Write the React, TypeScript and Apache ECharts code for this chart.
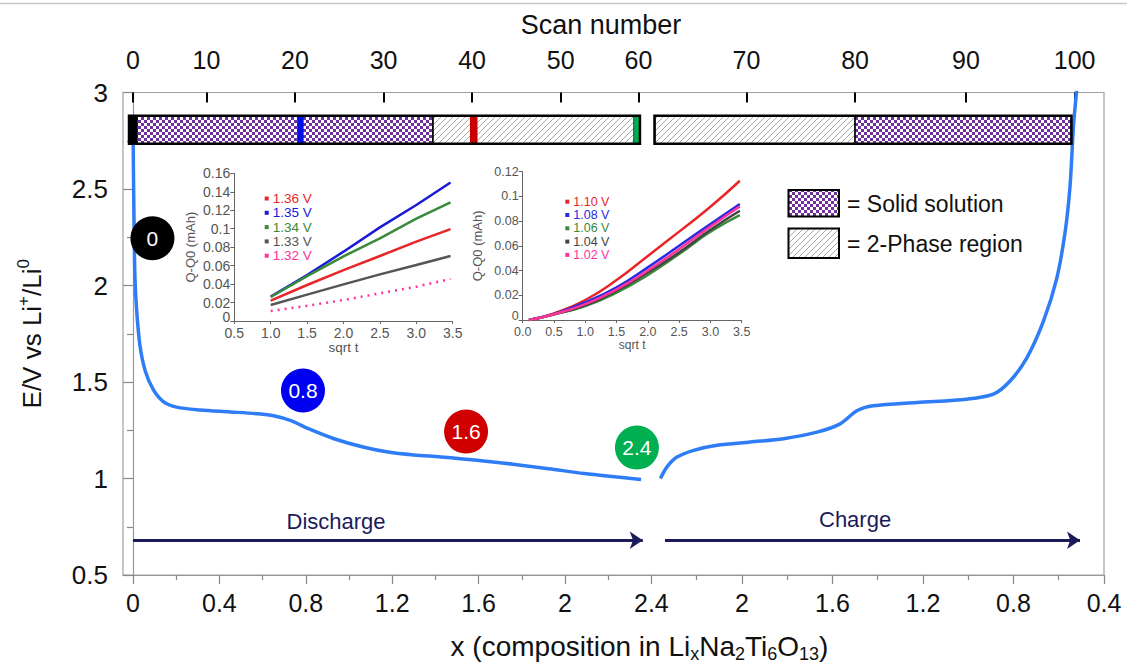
import React, { useEffect, useRef } from "react";
import * as echarts from "echarts";

// ---------- main curve (composition x, potential V) ----------
const dischargeX = [0, 0.002, 0.004, 0.006, 0.009, 0.017, 0.032, 0.056, 0.094, 0.139, 0.202, 0.31, 0.45, 0.58, 0.651, 0.731, 0.815, 0.931, 1.065, 1.181, 1.3, 1.426, 1.593, 1.759, 1.924, 2.088, 2.352];
const dischargeV = [2.85, 2.6, 2.4, 2.24, 2.04, 1.87, 1.69, 1.56, 1.46, 1.4, 1.37, 1.355, 1.345, 1.335, 1.325, 1.3, 1.257, 1.206, 1.163, 1.137, 1.122, 1.112, 1.095, 1.074, 1.051, 1.026, 0.995];
const chargeX = [2.36, 2.331, 2.287, 2.213, 2.11, 1.963, 1.816, 1.668, 1.566, 1.492, 1.419, 1.227, 1.006, 0.889, 0.815, 0.741, 0.668, 0.609, 0.572, 0.55, 0.535, 0.521];
const chargeV = [1.0, 1.06, 1.111, 1.146, 1.172, 1.189, 1.206, 1.24, 1.283, 1.351, 1.377, 1.394, 1.411, 1.437, 1.505, 1.625, 1.814, 2.036, 2.276, 2.516, 2.824, 3.01];

// ---------- axes ----------
const dischargeTicks = [0, 0.4, 0.8, 1.2, 1.6, 2, 2.4];
const chargeTicks = [2, 1.6, 1.2, 0.8, 0.4];
const dischargeMinor = [0.2, 0.6, 1.0, 1.4, 1.8, 2.2];
const chargeMinor = [2.2, 1.8, 1.4, 1.0, 0.6];
const scanNumbers = [0, 10, 20, 30, 40, 50, 60, 70, 80, 90, 100];
const scanComposition = [0, 0.34, 0.75, 1.16, 1.57, 1.98, 2.34, 1.98, 1.5, 1.01, 0.53];
const scanBranch = ["d", "d", "d", "d", "d", "d", "d", "c", "c", "c", "c"];

// ---------- phase bands ----------
const bandKind = ["solid", "twoPhase", "twoPhase", "solid"];
const bandFrom = [0.0185, 1.389, 2.386, 1.5];
const bandTo = [1.389, 2.32, 1.5, 0.544];
const bandBranch = ["d", "d", "c", "c"];
const markerScan = [0, 20, 40, 60];
const markerFrom = [-0.0185, 0.76, 1.56, 2.32];
const markerTo = [0.0185, 0.79, 1.595, 2.347];
const markerColors = ["#000000", "#0010E8", "#C80000", "#00B050"];
const outlineFrom = [-0.0185, 2.386];
const outlineTo = [2.347, 0.544];
const outlineBranch = ["d", "c"];

// ---------- badges ----------
const badgeLabels = ["0", "0.8", "1.6", "2.4"];
const badgeX = [0.09, 0.787, 1.542, 2.333];
const badgeV = [2.245, 1.456, 1.243, 1.16];
const badgeColors = ["#000000", "#0000F0", "#D00000", "#00B050"];

// ---------- inset 1 ----------
const inset1T = [1.0, 1.5, 2.0, 2.5, 3.0, 3.47];
const inset1Names = ["1.36 V", "1.35 V", "1.34 V", "1.33 V", "1.32 V"];
const inset1Colors = ["#E8262A", "#1A1AD8", "#3A8A3A", "#555555", "#FF3399"];
const inset1_136 = [0.022, 0.039, 0.0552, 0.0704, 0.086, 0.0996];
const inset1_135 = [0.0264, 0.0498, 0.0751, 0.1014, 0.1256, 0.15];
const inset1_134 = [0.026, 0.0487, 0.07, 0.0895, 0.111, 0.1285];
const inset1_133 = [0.0173, 0.0286, 0.0397, 0.0505, 0.0606, 0.0704];
const inset1_132 = [0.0108, 0.0165, 0.0227, 0.03, 0.0372, 0.0455];

// ---------- inset 2 ----------
const inset2T = [0.1, 0.5, 1.0, 1.5, 2.0, 2.5, 3.0, 3.47];
const inset2Names = ["1.10 V", "1.08 V", "1.06 V", "1.04 V", "1.02 V"];
const inset2Colors = ["#E8262A", "#2A2AE0", "#3A8A3A", "#444444", "#FF3399"];
const inset2_110 = [0, 0.0054, 0.0162, 0.0323, 0.0518, 0.0715, 0.0916, 0.1127];
const inset2_108 = [0, 0.0049, 0.0143, 0.0264, 0.0426, 0.0601, 0.0776, 0.0938];
const inset2_106 = [0, 0.0045, 0.0113, 0.0221, 0.0364, 0.0534, 0.0714, 0.0849];
const inset2_104 = [0, 0.0046, 0.0119, 0.0237, 0.0385, 0.0547, 0.073, 0.0884];
const inset2_102 = [0, 0.0047, 0.0129, 0.0248, 0.04, 0.0574, 0.0757, 0.0919];

const K = 1.0477; // charge branch scale on the shared axis
const toU = (x: number, branch: string) => (branch === "c" ? 2.4 + (2.4 - x) * K : x);
const U_MIN = -0.0463;
const U_MAX = 2.4 + 2.0 * K;
const BAND_TOP = 2.879;
const BAND_BOTTOM = 2.735;

const FONT = "'Liberation Sans', Arial, sans-serif";
const NAVY = "#1B1B5C";
const CURVE = "#2F7DF6";

function makeChecker() {
  const c = document.createElement("canvas");
  c.width = 6; c.height = 6;
  const g = c.getContext("2d")!;
  g.fillStyle = "#ffffff"; g.fillRect(0, 0, 6, 6);
  g.fillStyle = "#7030A0"; g.fillRect(0, 0, 3, 3); g.fillRect(3, 3, 3, 3);
  return c;
}
function makeHatch() {
  const c = document.createElement("canvas");
  c.width = 6; c.height = 6;
  const g = c.getContext("2d")!;
  g.fillStyle = "#ffffff"; g.fillRect(0, 0, 6, 6);
  g.strokeStyle = "#a8a8a8"; g.lineWidth = 1;
  g.beginPath();
  g.moveTo(0, 6); g.lineTo(6, 0);
  g.moveTo(-3, 3); g.lineTo(3, -3);
  g.moveTo(3, 9); g.lineTo(9, 3);
  g.stroke();
  return c;
}
const nearestLabel = (v: number, us: number[], labels: (string | number)[]) => {
  let best = 0, d = Infinity;
  us.forEach((u, i) => { const dd = Math.abs(u - v); if (dd < d) { d = dd; best = i; } });
  return String(labels[best]);
};

export default function App() {
  const ref = useRef<HTMLDivElement>(null);
  useEffect(() => {
    const chart = echarts.init(ref.current!, null, { renderer: "svg" });
    const checker = { image: makeChecker(), repeat: "repeat" };
    const hatch = { image: makeHatch(), repeat: "repeat" };

    const majorU = [...dischargeTicks.map((x) => toU(x, "d")), ...chargeTicks.map((x) => toU(x, "c"))];
    const majorLabels = [...dischargeTicks, ...chargeTicks];
    const minorU = [...dischargeMinor.map((x) => toU(x, "d")), ...chargeMinor.map((x) => toU(x, "c"))];
    const scanU = scanComposition.map((x, i) => toU(x, scanBranch[i]));

    const bandData: number[][] = [];
    bandKind.forEach((k, i) => bandData.push([toU(bandFrom[i], bandBranch[i]), toU(bandTo[i], bandBranch[i]), k === "solid" ? 0 : 1, 0]));
    markerScan.forEach((_, i) => bandData.push([toU(markerFrom[i], "d"), toU(markerTo[i], "d"), 2, i]));
    outlineFrom.forEach((_, i) => bandData.push([toU(outlineFrom[i], outlineBranch[i]), toU(outlineTo[i], outlineBranch[i]), 3, 0]));

    const insetAxisX = (grid: number, min: number, max: number, fs: number, gap: number) => ({
      gridIndex: grid, type: "value", min, max, interval: 0.5,
      axisLine: { lineStyle: { color: "#666", width: 1 } },
      axisTick: { length: 3, lineStyle: { color: "#666" } },
      axisLabel: { fontSize: fs, lineHeight: 11, color: "#555", margin: 6, fontFamily: FONT, formatter: (v: number) => v.toFixed(1) },
      splitLine: { show: false },
      name: "sqrt t", nameLocation: "middle", nameGap: gap,
      nameTextStyle: { fontSize: fs - 0.5, lineHeight: 12, color: "#555", fontFamily: FONT },
    });
    const insetAxisY = (grid: number, max: number, fs: number, gap: number) => ({
      gridIndex: grid, type: "value", min: 0, max, interval: 0.02,
      axisLine: { show: true, lineStyle: { color: "#666", width: 1 } },
      axisTick: { show: true, length: 4, lineStyle: { color: "#666" } },
      axisLabel: {
        fontSize: fs, lineHeight: 10, color: "#555", margin: 4, fontFamily: FONT,
        formatter: (v: number) => (Math.abs(v) < 1e-9 ? "{z|0}" : String(+v.toFixed(2))),
        rich: { z: { fontSize: fs, color: "#555", fontFamily: FONT, padding: [0, 0, 9, 0] } },
      },
      splitLine: { show: false },
      name: "Q-Q0 (mAh)", nameLocation: "middle", nameGap: gap,
      nameTextStyle: { fontSize: 13, color: "#555", fontFamily: FONT },
    });
    const insetSeries = (names: string[], colors: string[], t: number[], vals: number[][], xi: number, yi: number, dottedIdx: number, smooth: boolean) =>
      names.map((n, i) => ({
        name: n, type: "line", xAxisIndex: xi, yAxisIndex: yi, showSymbol: false, smooth, z: 4,
        data: t.map((x, j) => [x, vals[i][j]]),
        itemStyle: { color: colors[i] },
        lineStyle: { color: colors[i], width: 2.5, type: i === dottedIdx ? [2, 5] : "solid" },
      }));
    const insetLegend = (names: string[], colors: string[], left: number, top: number, fs: number) => ({
      orient: "vertical", left, top, padding: 0, itemGap: 0.3, itemWidth: 4, itemHeight: 4, icon: "rect",
      selectedMode: false,
      textStyle: { fontSize: fs, lineHeight: 13, fontFamily: FONT, padding: [0, 0, 0, -1] },
      data: names.map((n, i) => ({ name: n, textStyle: { color: colors[i] } })),
    });

    const option: any = {
      animation: false,
      backgroundColor: "#ffffff",
      textStyle: { fontFamily: FONT },
      grid: [
        { left: 123, top: 92.5, right: 23, bottom: 89, show: true, borderColor: "#a0a0a0", borderWidth: 1.2, backgroundColor: "transparent" },
        { left: 234.3, top: 173.3, width: 218.4, height: 147.7 },
        { left: 522.7, top: 171.7, width: 219, height: 148.3 },
      ],
      xAxis: [
        {
          gridIndex: 0, type: "value", position: "bottom", min: U_MIN, max: U_MAX,
          axisLine: { lineStyle: { color: "#999", width: 1.2 } },
          axisTick: { customValues: majorU, length: 9, lineStyle: { color: "#888", width: 1.2 } },
          axisLabel: {
            customValues: majorU, margin: 15, fontSize: 25, fontFamily: FONT, color: "#111",
            formatter: (v: number) => nearestLabel(v, majorU, majorLabels),
          },
          splitLine: { show: false },
          name: "x (composition in Li{sub|x}Na{sub|2}Ti{sub|6}O{sub|13})",
          nameLocation: "middle", nameGap: 54,
          nameTextStyle: {
            fontSize: 28, color: "#111", fontFamily: FONT, lineHeight: 34, padding: [0, 0, 0, 52],
            rich: { sub: { fontSize: 18, lineHeight: 17, verticalAlign: "bottom", fontFamily: FONT, color: "#111" } },
          },
        },
        {
          gridIndex: 0, type: "value", position: "top", min: U_MIN, max: U_MAX,
          axisLine: { show: false },
          axisTick: { customValues: scanU, inside: true, length: 10, lineStyle: { color: "#000", width: 2 } },
          axisLabel: {
            customValues: scanU, margin: 20, fontSize: 25, fontFamily: FONT, color: "#111",
            formatter: (v: number) => nearestLabel(v, scanU, scanNumbers),
          },
          splitLine: { show: false },
          name: "Scan number", nameLocation: "middle", nameGap: 54,
          nameTextStyle: { fontSize: 27, color: "#111", fontFamily: FONT, padding: [0, 25, 0, 0] },
        },
        {
          gridIndex: 0, type: "value", position: "bottom", min: U_MIN, max: U_MAX,
          axisLine: { show: false },
          axisTick: { customValues: minorU, length: 5, lineStyle: { color: "#888", width: 1.2 } },
          axisLabel: { show: false },
          splitLine: { show: false },
        },
        insetAxisX(1, 0.5, 3.5, 14, 17),
        insetAxisX(2, 0, 3.5, 12.5, 17),
      ],
      yAxis: [
        {
          gridIndex: 0, type: "value", min: 0.5, max: 3, interval: 0.5,
          axisLine: { show: true, lineStyle: { color: "#999", width: 1.2 } },
          axisTick: { show: true, length: 10, lineStyle: { color: "#888", width: 1.2 } },
          minorTick: { show: true, splitNumber: 2, length: 6, lineStyle: { color: "#888", width: 1.2 } },
          axisLabel: { margin: 15, fontSize: 26, fontFamily: FONT, color: "#111" },
          splitLine: { show: false },
          name: "E/V vs Li{sup|+}/Li{sup|0}", nameLocation: "middle", nameGap: 74,
          nameTextStyle: {
            fontSize: 26, color: "#111", fontFamily: FONT, lineHeight: 34,
            rich: { sup: { fontSize: 17, lineHeight: 17, verticalAlign: "top", fontFamily: FONT, color: "#111" } },
          },
        },
        insetAxisY(1, 0.16, 14, 37),
        insetAxisY(2, 0.12, 12.5, 39),
      ],
      legend: [
        insetLegend(inset1Names, inset1Colors, 264.7, 191.5, 13.5),
        insetLegend(inset2Names, inset2Colors, 565.3, 195.2, 12.5),
      ],
      graphic: [
        { type: "line", shape: { x1: 0, y1: 3.5, x2: 1127, y2: 3.5 }, style: { stroke: "#c8c8c8", lineWidth: 1.5 }, silent: true },
        { type: "rect", shape: { x: 788.5, y: 190, width: 50.5, height: 26.5 }, style: { fill: checker, stroke: "#000", lineWidth: 2 }, silent: true },
        { type: "rect", shape: { x: 788.5, y: 228.5, width: 50.5, height: 29.5 }, style: { fill: hatch, stroke: "#000", lineWidth: 2 }, silent: true },
        { type: "text", x: 847, y: 204, style: { text: "= Solid solution", fontSize: 23, fontFamily: FONT, fill: "#111", verticalAlign: "middle" }, silent: true },
        { type: "text", x: 847, y: 244, style: { text: "= 2-Phase region", fontSize: 23, fontFamily: FONT, fill: "#111", verticalAlign: "middle" }, silent: true },
      ],
      series: [
        {
          name: "Discharge", type: "line", xAxisIndex: 0, yAxisIndex: 0, showSymbol: false, smooth: 0.3, z: 3,
          data: dischargeX.map((x, i) => [toU(x, "d"), dischargeV[i]]),
          lineStyle: { color: CURVE, width: 3.5 }, itemStyle: { color: CURVE },
          markLine: {
            silent: true, symbol: ["none", "arrow"], symbolSize: 13, animation: false,
            label: { show: false },
            lineStyle: { color: NAVY, width: 3, type: "solid", opacity: 1 },
            data: [
              [{ coord: [toU(0, "d"), 0.68] }, { coord: [toU(2.36, "d"), 0.68] }],
              [{ coord: [toU(2.34, "c"), 0.68] }, { coord: [toU(0.506, "c"), 0.68] }],
            ],
          },
        },
        {
          name: "Charge", type: "line", xAxisIndex: 0, yAxisIndex: 0, showSymbol: false, smooth: 0.3, z: 3,
          data: chargeX.map((x, i) => [toU(x, "c"), chargeV[i]]),
          lineStyle: { color: CURVE, width: 3.5 }, itemStyle: { color: CURVE },
        },
        {
          type: "custom", xAxisIndex: 0, yAxisIndex: 0, z: 5, silent: true,
          data: bandData,
          renderItem: (params: any, api: any) => {
            const u0 = api.value(0), u1 = api.value(1), kind = api.value(2), ci = api.value(3);
            const p0 = api.coord([u0, BAND_TOP]);
            const p1 = api.coord([u1, BAND_BOTTOM]);
            const shape = { x: Math.min(p0[0], p1[0]), y: p0[1], width: Math.abs(p1[0] - p0[0]), height: p1[1] - p0[1] };
            let style: any;
            if (kind === 0) style = { fill: checker, stroke: "#000", lineWidth: 1.5 };
            else if (kind === 1) style = { fill: hatch, stroke: "#000", lineWidth: 1.5 };
            else if (kind === 2) style = { fill: markerColors[ci], stroke: null };
            else style = { fill: null, stroke: "#000", lineWidth: 2.5 };
            return { type: "rect", shape, style };
          },
        },
        {
          type: "scatter", xAxisIndex: 0, yAxisIndex: 0, z: 6, symbolSize: 44, silent: true,
          data: badgeLabels.map((l, i) => ({ value: [toU(badgeX[i], "d"), badgeV[i]], name: l, itemStyle: { color: badgeColors[i], opacity: 1 } })),
          itemStyle: { opacity: 1 },
          label: { show: true, position: "inside", formatter: "{b}", color: "#fff", fontSize: 21, fontFamily: FONT },
        },
        {
          type: "scatter", xAxisIndex: 0, yAxisIndex: 0, z: 6, symbolSize: 1, silent: true,
          itemStyle: { color: "rgba(255,255,255,0)", opacity: 1 },
          data: [
            { value: [toU(0.94, "d"), 0.775], name: "Discharge" },
            { value: [toU(1.5, "c"), 0.785], name: "Charge" },
          ],
          label: { show: true, position: "inside", formatter: "{b}", color: NAVY, opacity: 1, fontSize: 22, fontFamily: FONT },
        },
        ...insetSeries(inset1Names, inset1Colors, inset1T, [inset1_136, inset1_135, inset1_134, inset1_133, inset1_132], 3, 1, 4, false),
        ...insetSeries(inset2Names, inset2Colors, inset2T, [inset2_110, inset2_108, inset2_106, inset2_104, inset2_102], 4, 2, -1, true),
      ],
    };
    chart.setOption(option);
    return () => chart.dispose();
  }, []);
  return <div ref={ref} style={{ position: "fixed", left: 0, top: 0, width: 1127, height: 668, background: "#fff" }} />;
}
